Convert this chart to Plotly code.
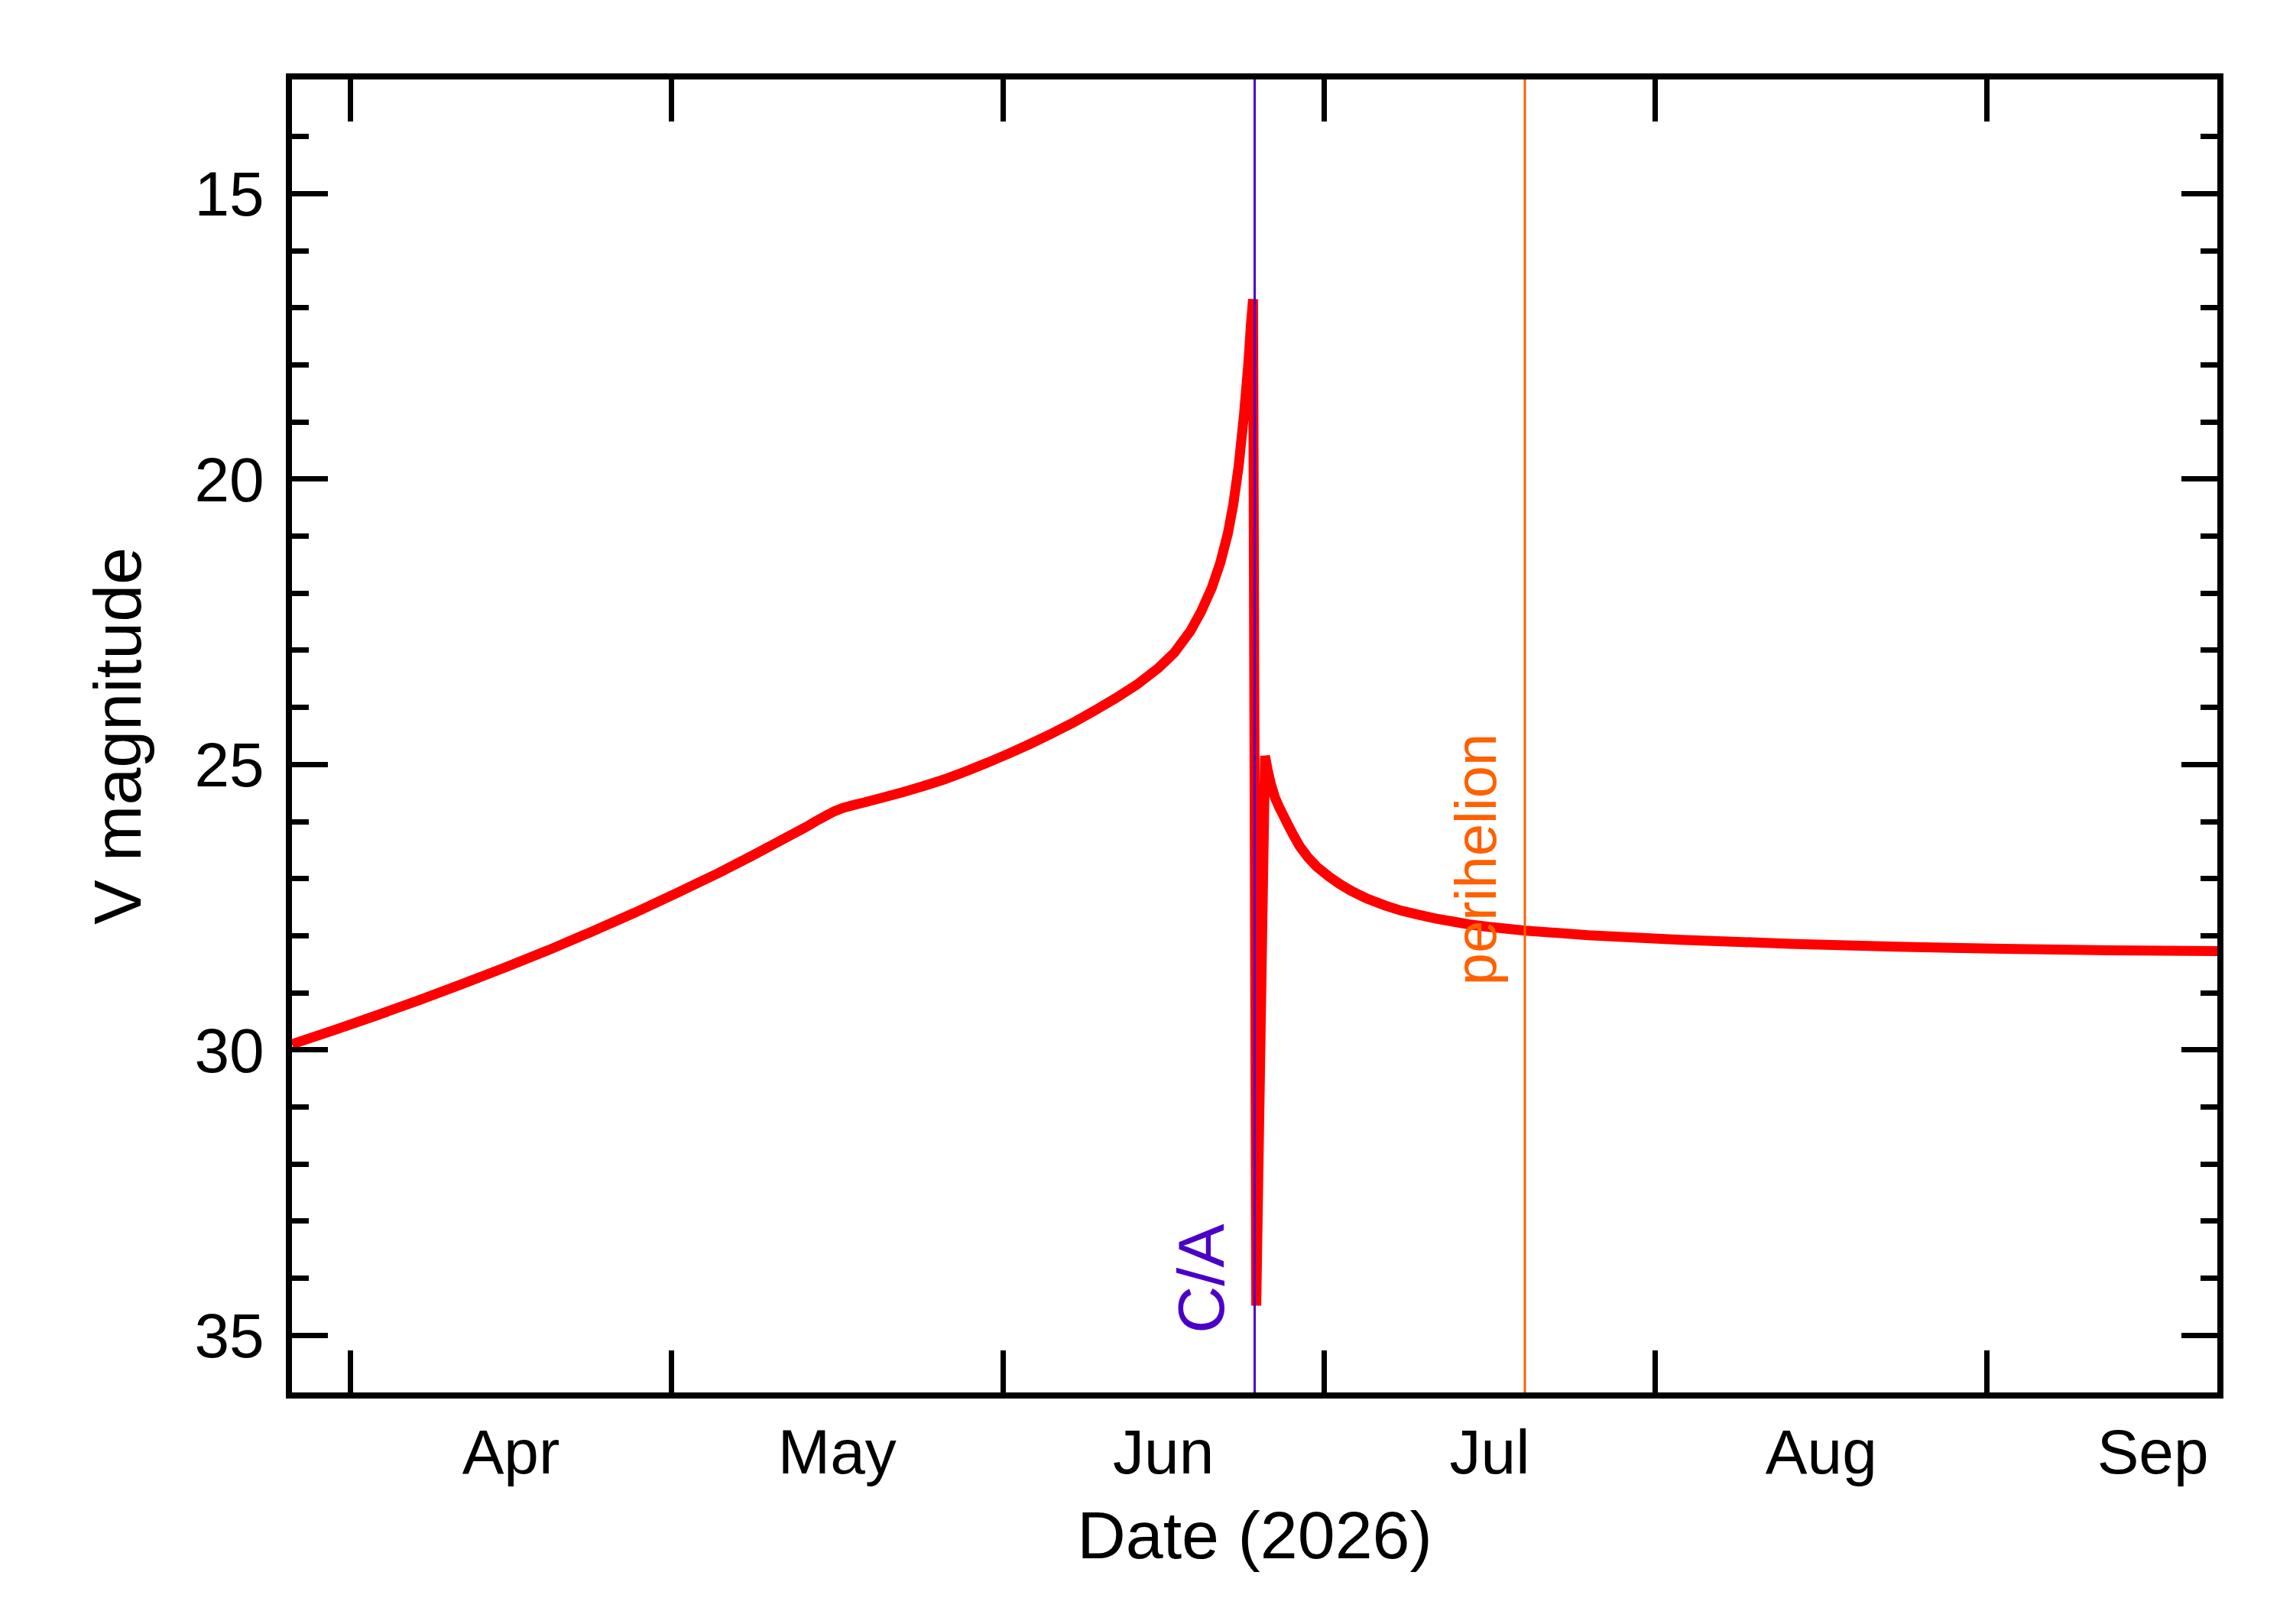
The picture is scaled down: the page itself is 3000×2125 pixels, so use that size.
import plotly.graph_objects as go
import pandas as pd

# ---- data ----
ca_date = "2026-06-24 12:43"          # close approach
perihelion_date = "2026-07-19 19:00"  # perihelion
x_start = "2026-03-26 12:43"
x_end = "2026-09-22 12:43"

# days relative to close approach
t_days = [-90.0, -86.0, -82.0, -78.0, -74.0, -70.0, -66.0, -62.0, -58.0, -54.0,
          -50.0, -47.0, -44.0, -42.0, -41.0, -40.0, -39.3, -38.5, -37.5, -36.5,
          -35.0, -33.0, -31.0, -29.0, -27.0, -25.0, -23.0, -21.0, -19.0, -17.0,
          -15.0, -13.0, -11.0, -9.0, -7.5, -6.0, -5.0, -4.0, -3.2, -2.5,
          -2.0, -1.5, -1.0, -0.6, -0.35, -0.15, 0.15, 0.97, 1.2, 1.5,
          1.9, 2.3, 2.65, 3.1, 3.6, 4.2, 5.0, 5.8, 7.0, 8.0,
          9.0, 10.5, 12.2, 13.7, 15.3, 17.0, 18.5, 20.0, 21.7, 25.3,
          31.2, 39.8, 50.0, 60.0, 70.0, 80.0, 90.0]
vmag = [29.90, 29.65, 29.39, 29.12, 28.84, 28.55, 28.25, 27.93, 27.60, 27.25,
        26.89, 26.60, 26.30, 26.10, 25.99, 25.89, 25.82, 25.76, 25.71, 25.665,
        25.59, 25.49, 25.38, 25.26, 25.12, 24.97, 24.81, 24.64, 24.46, 24.27,
        24.06, 23.84, 23.60, 23.31, 23.04, 22.66, 22.32, 21.90, 21.46, 20.95,
        20.45, 19.78, 18.88, 18.00, 17.30, 16.85, 34.48, 24.85, 25.08, 25.33,
        25.58, 25.75, 25.88, 26.05, 26.23, 26.43, 26.63, 26.79, 26.97, 27.10,
        27.21, 27.35, 27.47, 27.56, 27.63, 27.70, 27.75, 27.80, 27.84, 27.91,
        27.99, 28.07, 28.14, 28.19, 28.23, 28.255, 28.27]

event_labels = ["C/A", "perihelion"]
event_dates = [ca_date, perihelion_date]
event_colors = ["#4b00c8", "#ff6000"]
event_label_y = [35.0, 28.9]
event_font_sizes = [86, 76]

dates = pd.Timestamp(ca_date) + pd.to_timedelta(t_days, unit="D")

FONT = "Liberation Sans"

fig = go.Figure()
fig.add_trace(go.Scatter(x=dates, y=vmag, mode="lines",
                         line=dict(color="#ff0000", width=13, simplify=False),
                         hoverinfo="skip", showlegend=False))

for lab, d, col, ly, fs in zip(event_labels, event_dates, event_colors,
                               event_label_y, event_font_sizes):
    fig.add_shape(type="line", xref="x", yref="paper", x0=d, x1=d, y0=0, y1=1,
                  line=dict(color=col, width=3), layer="above")
    fig.add_annotation(x=d, y=ly, xref="x", yref="y", text=lab, showarrow=False,
                       textangle=-90, xanchor="right", yanchor="bottom",
                       xshift=-20, font=dict(family=FONT, size=fs, color=col))

axis_common = dict(showline=True, linecolor="black", linewidth=8, mirror="ticks",
                   ticks="inside", tickcolor="black", tickwidth=7,
                   showgrid=False, zeroline=False,
                   tickfont=dict(family=FONT, size=82, color="black"))

fig.update_layout(
    width=3000, height=2125,
    margin=dict(l=382, r=99, t=104, b=303),
    paper_bgcolor="white", plot_bgcolor="white",
    xaxis=dict(type="date", range=[x_start, x_end], dtick="M1",
               tick0="2026-01-01", tickformat="%b", ticklabelmode="period",
               ticklen=55,
               title=dict(text="Date (2026)", font=dict(family=FONT, size=88, color="black"),
                          standoff=36),
               **axis_common),
    yaxis=dict(range=[36, 13], tick0=15, dtick=5, ticklen=47,
               ticklabelstandoff=12,
               minor=dict(dtick=1, ticklen=22, tickwidth=7, tickcolor="black",
                          ticks="inside"),
               title=dict(text="V magnitude", font=dict(family=FONT, size=88, color="black"),
                          standoff=44),
               **axis_common),
)

fig.write_html("out.html")
